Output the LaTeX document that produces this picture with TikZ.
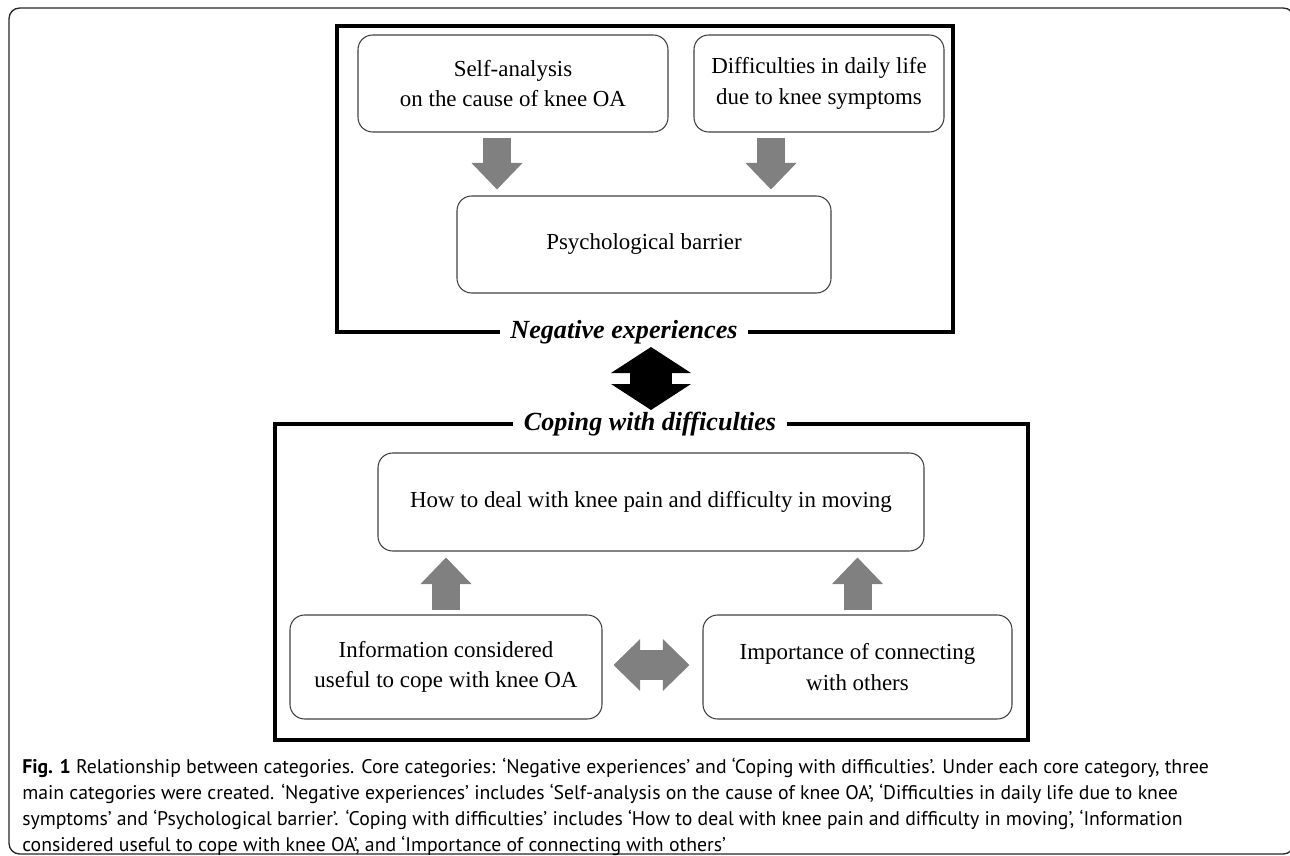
\documentclass[tikz,border=0pt]{standalone}
\usepackage{fontspec}
\setmainfont{Liberation Serif}
\newfontfamily\capfont{PT Sans}
\usetikzlibrary{arrows.meta,calc}

\tikzset{
  catbox/.style={draw=black!75, line width=0.8pt, rounded corners=11pt, align=center,
    inner sep=0pt, font=\fontsize{17.2}{23}\selectfont},
  coreframe/.style={draw=black, line width=2.3pt},
  corelabel/.style={fill=white, inner xsep=8pt, inner ysep=1pt,
    font=\fontsize{19.6}{24}\selectfont\bfseries\itshape},
  caption/.style={anchor=west, inner sep=0pt, font=\capfont\fontsize{14.8}{18}\selectfont},
  grayshaft/.style={draw=gray, line width=21pt,
    -{Triangle[width=38.5pt,length=20pt,line width=0pt]}},
  grayboth/.style={draw=gray, line width=22.5pt,
    {Triangle[width=39pt,length=20pt,line width=0pt]}-{Triangle[width=39pt,length=20pt,line width=0pt]}},
  blackboth/.style={draw=black, line width=31.5pt,
    {Triangle[width=60pt,length=19.5pt,line width=0pt]}-{Triangle[width=60pt,length=19.5pt,line width=0pt]}}
}

\begin{document}
\begin{tikzpicture}[x=0.75pt,y=-0.75pt]
  \useasboundingbox (0,0) rectangle (1290,856);

  % Draw the outer figure frame
  \draw[black!85, line width=1pt, rounded corners=8pt] (9,8) rectangle (1294,854);

  % Draw the two core category frames
  \draw[coreframe] (337,26) rectangle (953,332);
  \draw[coreframe] (275,424) rectangle (1028,740);
  \node[corelabel] (negLbl) at (624,332) {Negative experiences};
  \node[corelabel] (copLbl) at (650,424) {Coping with difficulties};

  % Negative experiences: three main categories
  \node[catbox, minimum width=232.5pt, minimum height=72.75pt] (selfA) at (513,83.5)
    {Self-analysis\\on the cause of knee OA};
  \node[catbox, minimum width=187.5pt, minimum height=72.75pt] (dailyB) at (819,83.5)
    {Difficulties in daily life\\due to knee symptoms};
  \node[catbox, minimum width=280.5pt, minimum height=72.75pt] (psych) at (644,244.5)
    {Psychological barrier};

  \draw[grayshaft] ($(selfA.south)+(-16,5)$) coordinate (dnL) -- ($(dnL |- psych.north)+(0,-6)$);
  \draw[grayshaft] ($(dailyB.south)+(-48,5)$) coordinate (dnR) -- ($(dnR |- psych.north)+(0,-6)$);

  % Coping with difficulties: three main categories
  \node[catbox, minimum width=409.5pt, minimum height=73.5pt] (howTo) at (651,502)
    {How to deal with knee pain and difficulty in moving};
  \node[catbox, minimum width=234pt, minimum height=78pt] (infoC) at (446,667)
    {Information considered\\useful to cope with knee OA};
  \node[catbox, minimum width=231.75pt, minimum height=78pt] (connD) at (857.5,667)
    {Importance of connecting\\with others};

  \draw[grayshaft] ($(infoC.north)+(0,-4)$) coordinate (upL) -- ($(upL |- howTo.south)+(0,6)$);
  \draw[grayshaft] ($(connD.north)+(0,-4)$) coordinate (upR) -- ($(upR |- howTo.south)+(0,6)$);
  \draw[grayboth] ($(infoC.east)+(11,-2)$) -- ($(connD.west)+(-13,-2)$);

  % Link between the two core categories
  \draw[blackboth] ($(copLbl.center)+(1,-77)$) -- ($(copLbl.center)+(1,-14)$);

  % Caption
  \node[caption] (cap1) at (22,768) {\textbf{Fig. 1} Relationship between categories. Core categories: ‘Negative experiences’ and ‘Coping with difficulties’. Under each core category, three};
  \node[caption] (cap2) at (22,794) {main categories were created. ‘Negative experiences’ includes ‘Self-analysis on the cause of knee OA’, ‘Difficulties in daily life due to knee};
  \node[caption] (cap3) at (22,820) {symptoms’ and ‘Psychological barrier’. ‘Coping with difficulties’ includes ‘How to deal with knee pain and difficulty in moving’, ‘Information};
  \node[caption] (cap4) at (22,846) {considered useful to cope with knee OA’, and ‘Importance of connecting with others’};
\end{tikzpicture}
\end{document}
